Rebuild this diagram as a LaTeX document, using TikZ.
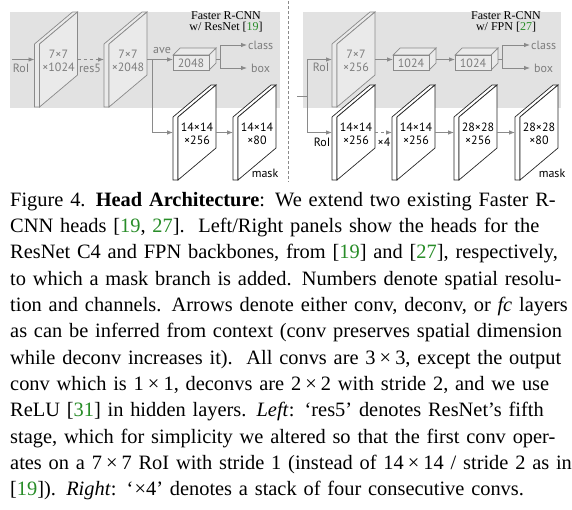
\documentclass[tikz,border=0pt]{standalone}
\usepackage{fontspec}
\setmainfont{Liberation Serif}
\newfontfamily\labelfont{PT Sans}
\usetikzlibrary{arrows.meta}

\definecolor{bggray}{RGB}{226,226,226}
\definecolor{plategray}{RGB}{234,234,234}
\definecolor{linegray}{RGB}{138,138,138}
\definecolor{textgray}{RGB}{125,125,125}
\definecolor{citegreen}{RGB}{40,140,40}

\newcommand{\refno}[1]{\textcolor{citegreen}{#1}}
\newcommand{\tx}{\kern.2em×\kern.2em}
\newcommand{\capline}[1]{\noindent\makebox[552pt][s]{#1}\par}

\tikzset{
  grayplate/.style={draw=linegray,fill=plategray,line width=0.7pt},
  maskplate/.style={draw=black!85,fill=white,line width=0.7pt},
  graylabel/.style={text=textgray,font=\labelfont\fontsize{12}{13}\selectfont,align=center,inner sep=1pt},
  masklabel/.style={text=black,font=\labelfont\fontsize{12}{13}\selectfont,align=center,inner sep=1pt},
  flow/.style={draw=linegray,line width=0.8pt,-{Latex[length=6pt,width=4.5pt]}},
  flowline/.style={draw=linegray,line width=0.8pt},
  headtitle/.style={font=\fontsize{12}{10.5}\selectfont,align=center,inner sep=0pt}
}

\newcommand{\plate}[6]{%
  \begin{scope}[shift={(#2,#3)}]
    \filldraw[#4] (-24,47.5) -- (-24,-15.5) -- (14,-47.5) -- (19,-47.5) -- (-19,-15.5) -- (-19,47.5) -- cycle;
    \filldraw[#4] (-19,47.5) -- (-19,-15.5) -- (19,-47.5) -- (19,15.5) -- cycle;
    \coordinate (#1-in) at (-24,0);
    \coordinate (#1-out) at (19,0);
    \node[#5] (#1) at (0,1) {#6};
  \end{scope}}

\newcommand{\fcbox}[4]{%
  \begin{scope}[shift={(#2,#3)}]
    \filldraw[grayplate] (0,0) -- (7,-7) -- (43,-7) -- (36,0) -- cycle;
    \filldraw[grayplate] (36,0) -- (43,-7) -- (43,8) -- (36,15) -- cycle;
    \filldraw[grayplate] (0,0) rectangle (36,15);
    \coordinate (#1-in) at (0,4.5);
    \coordinate (#1-out) at (43,4.5);
    \node[graylabel] (#1) at (18,8) {#4};
  \end{scope}}

\begin{document}
\begin{tikzpicture}[x=1pt,y=-1pt]
\useasboundingbox (0,0) rectangle (572,509);

\fill[bggray] (10,12) rectangle (280,108);
\fill[bggray] (303,12) rectangle (561,108);
\draw[linegray,line width=0.6pt,dash pattern=on 3pt off 2pt] (288.5,1) -- (288.5,182);

% left: ResNet C4 head
\plate{s1}{58.5}{59.5}{grayplate}{graylabel}{7×7\\×1024}
\plate{s2}{128}{59.5}{grayplate}{graylabel}{7×7\\×2048}
\fcbox{boxL}{173}{55}{2048}
\plate{m1}{197}{132.5}{maskplate}{masklabel}{14×14\\×256}
\plate{m2}{257}{132.5}{maskplate}{masklabel}{14×14\\×80}

\coordinate (roiL) at (12,59.5);
\coordinate (tapL) at (152,59.5);
\coordinate (splitL) at (220,59.5);
\coordinate (clsL) at (247,45);
\coordinate (bbxL) at (247,68);
\draw[flow] (roiL) -- (s1-in);
\draw[flow,dashed] (s1-out) -- (s2-in);
\draw[flow] (s2-out) -- (boxL-in);
\draw[flow] (tapL) |- (m1-in);
\draw[flow] (m1-out) -- (m2-in);
\draw[flowline] (boxL-out) -- (splitL);
\draw[flow] (splitL) |- (clsL);
\draw[flow] (splitL) |- (bbxL);

\node[graylabel] (roiLtext) at (21,68) {RoI};
\node[graylabel] (res5text) at (90,68) {res5};
\node[graylabel] (avetext) at (162,50) {ave};
\node[graylabel,anchor=west] (clsLtext) at (clsL) {class};
\node[graylabel,anchor=west] (bbxLtext) at ([xshift=3pt]bbxL) {box};
\node[masklabel] (maskL) at (265,173) {mask};
\node[headtitle] (titleL) at (226,22) {Faster R-CNN\\w/ ResNet [\refno{19}]};

% right: FPN head
\plate{r1}{356}{59.5}{grayplate}{graylabel}{7×7\\×256}
\fcbox{b1}{393}{55}{1024}
\fcbox{b2}{455}{55}{1024}
\plate{m3}{356}{132.5}{maskplate}{masklabel}{14×14\\×256}
\plate{m4}{416}{132.5}{maskplate}{masklabel}{14×14\\×256}
\plate{m5}{478}{132.5}{maskplate}{masklabel}{28×28\\×256}
\plate{m6}{539}{132.5}{maskplate}{masklabel}{28×28\\×80}

\coordinate (roiR0) at (297,96.5);
\coordinate (roiR) at (307,96.5);
\coordinate (splitR) at (502,59.5);
\coordinate (clsR) at (530,45);
\coordinate (bbxR) at (530,68);
\draw[flowline] (roiR0) -- (roiR);
\draw[flow] (roiR) |- (r1-in);
\draw[flow] (roiR) |- (m3-in);
\draw[flow] (r1-out) -- (b1-in);
\draw[flow] (b1-out) -- (b2-in);
\draw[flowline] (b2-out) -- (splitR);
\draw[flow] (splitR) |- (clsR);
\draw[flow] (splitR) |- (bbxR);
\draw[flow,dashed] (m3-out) -- (m4-in);
\draw[flow] (m4-out) -- (m5-in);
\draw[flow] (m5-out) -- (m6-in);

\node[graylabel] (roiRtext) at (321,67) {RoI};
\node[masklabel] (roiRmask) at (322,142) {RoI};
\node[masklabel] (x4text) at (384,142) {×4};
\node[graylabel,anchor=west] (clsRtext) at (clsR) {class};
\node[graylabel,anchor=west] (bbxRtext) at ([xshift=3pt]bbxR) {box};
\node[masklabel] (maskR) at (552,173) {mask};
\node[headtitle] (titleR) at (506,22) {Faster R-CNN\\w/ FPN [\refno{27}]};

\node[anchor=north west,inner sep=0pt,text width=552pt,align=left,
  font=\fontsize{20.4}{26.3}\selectfont] (caption) at (10,192)
  {\capline{Figure 4. \textbf{Head Architecture}: We extend two existing Faster R-}
  \capline{CNN heads [\refno{19}, \refno{27}].\ \ Left/Right panels show the heads for the}
  \capline{ResNet C4 and FPN backbones, from [\refno{19}] and [\refno{27}], respectively,}
  \capline{to which a mask branch is added. Numbers denote spatial resolu-}
  \capline{tion and channels. Arrows denote either conv, deconv, or \textit{fc} layers}
  \capline{as can be inferred from context (conv preserves spatial dimension}
  \capline{while deconv increases it).\ \ All convs are 3\tx 3, except the output}
  \capline{conv which is 1\tx 1, deconvs are 2\tx 2 with stride 2, and we use}
  \capline{ReLU [\refno{31}] in hidden layers. \textit{Left}: `res5' denotes ResNet's fifth}
  \capline{stage, which for simplicity we altered so that the first conv oper-}
  \capline{ates on a 7\tx 7 RoI with stride 1 (instead of 14\tx 14 / stride 2 as in}
  \noindent[\refno{19}]). \textit{Right}: `\kern.05em×4' denotes a stack of four consecutive convs.};

\end{tikzpicture}
\end{document}
